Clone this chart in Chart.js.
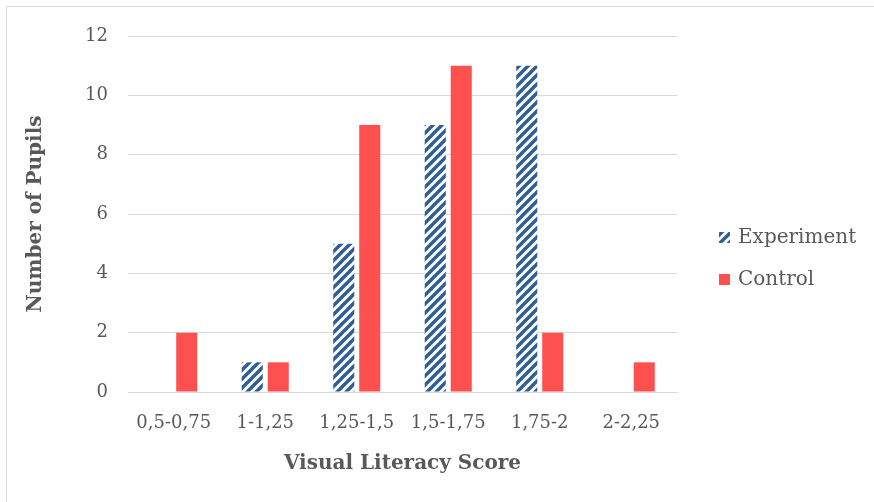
<!DOCTYPE html>
<html>
<head>
<meta charset="utf-8">
<script src="https://cdn.jsdelivr.net/npm/chart.js@4.4.0/dist/chart.umd.min.js"></script>
<style>
  html, body { margin: 0; padding: 0; background: #ffffff; }
  #wrap { position: relative; width: 874px; height: 502px; }
  canvas { display: block; }
</style>
</head>
<body>
<div id="wrap"><canvas id="chart" width="874" height="502"></canvas></div>
<script>
// Score bands and pupil counts per group
const categories = ['0,5-0,75', '1-1,25', '1,25-1,5', '1,5-1,75', '1,75-2', '2-2,25'];
const experiment = [0, 1, 5, 9, 11, 0];
const control = [2, 1, 9, 11, 2, 1];
const yTickValues = [0, 2, 4, 6, 8, 10, 12];

const FONT = "'DejaVu Serif', 'Liberation Serif', serif";
const TEXT = '#595959';
const GRID = '#d9d9d9';

// Upward diagonal hatch used for the experiment bars
function hatch(color, size, width) {
  const c = document.createElement('canvas');
  c.width = size; c.height = size;
  const g = c.getContext('2d');
  g.fillStyle = '#ffffff';
  g.fillRect(0, 0, size, size);
  g.strokeStyle = color;
  g.lineWidth = width;
  g.lineCap = 'square';
  for (let k = -1; k <= 1; k++) {
    g.beginPath();
    g.moveTo(k * size - 1, size + 1);
    g.lineTo(k * size + size + 1, -1);
    g.stroke();
  }
  return document.getElementById('chart').getContext('2d').createPattern(c, 'repeat');
}

// White background and the thin frame along the top and left edges
const frame = {
  id: 'frame',
  beforeDraw(chart) {
    const ctx = chart.ctx;
    ctx.save();
    ctx.fillStyle = '#ffffff';
    ctx.fillRect(0, 0, chart.width, chart.height);
    ctx.strokeStyle = GRID;
    ctx.lineWidth = 1;
    ctx.strokeRect(6.5, 6.5, chart.width + 20, chart.height + 20);
    ctx.restore();
  }
};

// Legend to the right of the plot, one row per dataset
const sideLegend = {
  id: 'sideLegend',
  afterDraw(chart) {
    const ctx = chart.ctx;
    const area = chart.chartArea;
    const x = area.right + 42;
    const rowGap = 42;
    const yStart = (area.top + area.bottom) / 2 + 24;
    ctx.save();
    ctx.font = '20px ' + FONT;
    ctx.textBaseline = 'middle';
    ctx.textAlign = 'left';
    chart.data.datasets.forEach((ds, i) => {
      const y = yStart + i * rowGap;
      ctx.fillStyle = ds.backgroundColor;
      ctx.fillRect(x, y - 6, 11, 11);
      ctx.fillStyle = TEXT;
      ctx.fillText(ds.label, x + 19, y);
    });
    ctx.restore();
  }
};

new Chart(document.getElementById('chart'), {
  type: 'bar',
  data: {
    labels: categories,
    datasets: [
      {
        label: 'Experiment',
        data: experiment,
        backgroundColor: hatch('#2f5d96', 9, 3.4),
        borderWidth: 0,
        categoryPercentage: 0.568,
        barPercentage: 0.81
      },
      {
        label: 'Control',
        data: control,
        backgroundColor: '#ff5050',
        borderWidth: 0,
        categoryPercentage: 0.568,
        barPercentage: 0.81
      }
    ]
  },
  options: {
    responsive: false,
    animation: false,
    layout: { padding: { left: 24, top: 36, right: 197, bottom: 20 } },
    plugins: {
      legend: { display: false },
      tooltip: { enabled: false }
    },
    scales: {
      x: {
        grid: { display: false },
        border: { display: true, color: GRID, width: 1 },
        ticks: { font: { family: FONT, size: 18 }, color: TEXT, padding: 13, maxRotation: 0, autoSkip: false },
        title: { display: true, text: 'Visual Literacy Score', font: { family: FONT, size: 20, weight: 'bold' }, color: TEXT, padding: { top: 4, bottom: 6 } },
        afterFit(s) { s.height = 90; }
      },
      y: {
        min: 0,
        max: 12,
        afterBuildTicks(s) { s.ticks = yTickValues.map(v => ({ value: v })); },
        grid: { color: GRID, drawTicks: false },
        border: { display: false },
        ticks: { font: { family: FONT, size: 18 }, color: TEXT, padding: 20 },
        title: { display: true, text: 'Number of Pupils', font: { family: FONT, size: 20, weight: 'bold' }, color: TEXT, padding: 0 },
        afterFit(s) { s.width = 104; }
      }
    }
  },
  plugins: [frame, sideLegend]
});
</script>
</body>
</html>
